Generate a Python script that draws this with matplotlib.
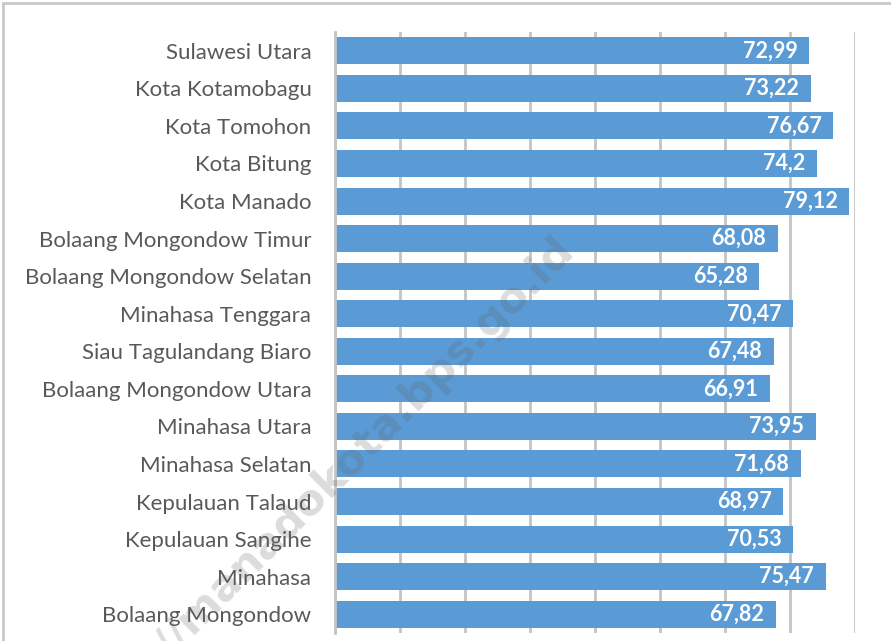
import matplotlib
matplotlib.use("Agg")
import matplotlib.pyplot as plt
from matplotlib.patches import Rectangle

# Data (top-to-bottom order as shown)
regions = [
    "Sulawesi Utara", "Kota Kotamobagu", "Kota Tomohon", "Kota Bitung",
    "Kota Manado", "Bolaang Mongondow Timur", "Bolaang Mongondow Selatan",
    "Minahasa Tenggara", "Siau Tagulandang Biaro", "Bolaang Mongondow Utara",
    "Minahasa Utara", "Minahasa Selatan", "Kepulauan Talaud",
    "Kepulauan Sangihe", "Minahasa", "Bolaang Mongondow",
]
values = [72.99, 73.22, 76.67, 74.2, 79.12, 68.08, 65.28, 70.47,
          67.48, 66.91, 73.95, 71.68, 68.97, 70.53, 75.47, 67.82]

BAR = "#5B9BD5"
GRID = "#C4C4C4"
TXT = "#595959"
FONT = ["Lato", "DejaVu Sans"]

W, H = 891, 641
fig = plt.figure(figsize=(W / 100, H / 100), dpi=100)

# outer chart border
fig.patches.append(Rectangle((3 / W, -0.1), 1.2, 1 - 3 / H + 0.1,
                             transform=fig.transFigure, fill=False,
                             edgecolor="#C8C8C8", linewidth=2.0))

ax = fig.add_axes([335 / W, 1 - 633 / H, (855 - 335) / W, (633 - 32) / H])
y = list(range(len(regions)))
ax.barh(y, values, height=0.72, color=BAR, zorder=2)
ax.set_ylim(len(regions) - 0.5, -0.5)
ax.set_xlim(0, 80)
ax.set_xticks(range(0, 81, 10))
ax.xaxis.grid(True, color=GRID, linewidth=2.0, zorder=0)
ax.set_axisbelow(True)
ax.tick_params(axis="x", length=0, labelbottom=False)
ax.tick_params(axis="y", length=0, pad=17, labelsize=16, labelcolor=TXT)
ax.set_yticks(y)
ax.set_yticklabels(regions, fontfamily=FONT)
for s in ("top", "right", "bottom"):
    ax.spines[s].set_visible(False)
ax.spines["left"].set_color(GRID)
ax.spines["left"].set_linewidth(2.0)

for yi, v in zip(y, values):
    lbl = f"{v:g}".replace(".", ",")
    ax.text(v - 1.8, yi, lbl, ha="right", va="center", color="white",
            fontsize=15.5, fontweight="bold", fontfamily=FONT, zorder=3)

# watermark
fig.text(567 / W, 1 - 243 / H, "https://manadokota.bps.go.id",
         rotation=45, rotation_mode="anchor", ha="right", va="center",
         fontsize=31, fontweight="bold", color="#606060", alpha=0.22,
         fontfamily=["DejaVu Sans"], zorder=5)

fig.savefig("out.png", dpi=100, facecolor="white")
